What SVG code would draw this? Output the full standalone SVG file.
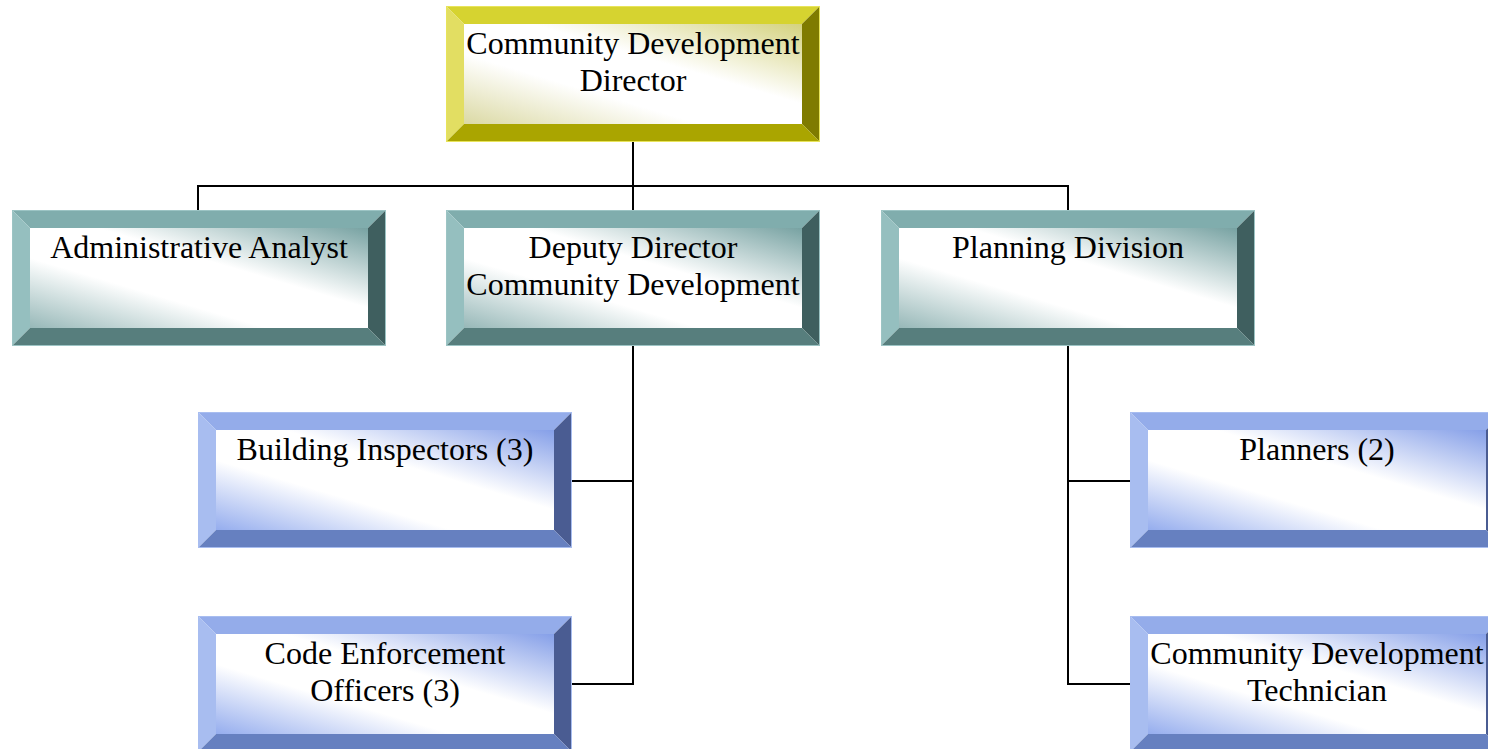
<svg xmlns="http://www.w3.org/2000/svg" width="1488" height="749" viewBox="0 0 1488 749">
<style>
text{font-family:"Liberation Serif","Times New Roman",serif;font-size:32px;fill:#000;text-anchor:middle}
.conn{stroke:#000;stroke-width:2;fill:none}
.y .t{fill:#d6d330}.y .l{fill:#e2de62}.y .r{fill:#7f7b00}.y .b{fill:#aaa500}.y .in{fill:url(#gy)}.y .o{stroke:#e8e45a}
.g .t{fill:#80adad}.g .l{fill:#95bfbf}.g .r{fill:#3f5f5f}.g .b{fill:#577e7d}.g .in{fill:url(#gg)}.g .o{stroke:#9cc4c4}
.bl .t{fill:#94acea}.bl .l{fill:#a8bdf0}.bl .r{fill:#4a5c92}.bl .b{fill:#6680c0}.bl .in{fill:url(#gb)}.bl .o{stroke:#a8bdf0}
.o{fill:none;stroke-width:1}
</style>
<defs>
<linearGradient id="gy" x1="1" y1="0" x2="0" y2="1">
<stop offset="0" stop-color="#d4d27e"/><stop offset="0.4" stop-color="#ffffff"/><stop offset="0.65" stop-color="#ffffff"/><stop offset="1" stop-color="#dbd9a4"/>
</linearGradient>
<linearGradient id="gg" x1="1" y1="0" x2="0" y2="1">
<stop offset="0" stop-color="#77a2a2"/><stop offset="0.4" stop-color="#ffffff"/><stop offset="0.65" stop-color="#ffffff"/><stop offset="1" stop-color="#97b8b8"/>
</linearGradient>
<linearGradient id="gb" x1="1" y1="0" x2="0" y2="1">
<stop offset="0" stop-color="#859fe8"/><stop offset="0.4" stop-color="#ffffff"/><stop offset="0.65" stop-color="#ffffff"/><stop offset="1" stop-color="#95adee"/>
</linearGradient>
</defs>
<g id="connectors">
<path class="conn" d="M633,142 V186 M198,210 V186 H1068 V210 M633,186 V210"/>
<path class="conn" d="M633,346 V684 H572 M633,481 H572"/>
<path class="conn" d="M1068,346 V684 H1130 M1068,481 H1130"/>
</g>
<g id="director" class="y" transform="translate(446,6)">
<polygon class="t" points="0,0 374,0 356,18 18,18"/><polygon class="l" points="0,0 18,18 18,118 0,136"/><polygon class="r" points="374,0 374,136 356,118 356,18"/><polygon class="b" points="0,136 18,118 356,118 374,136"/><rect class="in" x="18" y="18" width="338" height="100"/><rect class="o" x="0.5" y="0.5" width="373" height="135"/>
<text x="187" y="48">Community Development</text>
<text x="187" y="85">Director</text>
</g>
<g id="admin" class="g" transform="translate(12,210)">
<polygon class="t" points="0,0 374,0 356,18 18,18"/><polygon class="l" points="0,0 18,18 18,118 0,136"/><polygon class="r" points="374,0 374,136 356,118 356,18"/><polygon class="b" points="0,136 18,118 356,118 374,136"/><rect class="in" x="18" y="18" width="338" height="100"/><rect class="o" x="0.5" y="0.5" width="373" height="135"/>
<text x="187" y="48">Administrative Analyst</text>
</g>
<g id="deputy" class="g" transform="translate(446,210)">
<polygon class="t" points="0,0 374,0 356,18 18,18"/><polygon class="l" points="0,0 18,18 18,118 0,136"/><polygon class="r" points="374,0 374,136 356,118 356,18"/><polygon class="b" points="0,136 18,118 356,118 374,136"/><rect class="in" x="18" y="18" width="338" height="100"/><rect class="o" x="0.5" y="0.5" width="373" height="135"/>
<text x="187" y="48">Deputy Director</text>
<text x="187" y="85">Community Development</text>
</g>
<g id="planning" class="g" transform="translate(881,210)">
<polygon class="t" points="0,0 374,0 356,18 18,18"/><polygon class="l" points="0,0 18,18 18,118 0,136"/><polygon class="r" points="374,0 374,136 356,118 356,18"/><polygon class="b" points="0,136 18,118 356,118 374,136"/><rect class="in" x="18" y="18" width="338" height="100"/><rect class="o" x="0.5" y="0.5" width="373" height="135"/>
<text x="187" y="48">Planning Division</text>
</g>
<g id="building" class="bl" transform="translate(198,412)">
<polygon class="t" points="0,0 374,0 356,18 18,18"/><polygon class="l" points="0,0 18,18 18,118 0,136"/><polygon class="r" points="374,0 374,136 356,118 356,18"/><polygon class="b" points="0,136 18,118 356,118 374,136"/><rect class="in" x="18" y="18" width="338" height="100"/><rect class="o" x="0.5" y="0.5" width="373" height="135"/>
<text x="187" y="48">Building Inspectors (3)</text>
</g>
<g id="code" class="bl" transform="translate(198,616)">
<polygon class="t" points="0,0 374,0 356,18 18,18"/><polygon class="l" points="0,0 18,18 18,118 0,136"/><polygon class="r" points="374,0 374,136 356,118 356,18"/><polygon class="b" points="0,136 18,118 356,118 374,136"/><rect class="in" x="18" y="18" width="338" height="100"/><rect class="o" x="0.5" y="0.5" width="373" height="135"/>
<text x="187" y="48">Code Enforcement</text>
<text x="187" y="85">Officers (3)</text>
</g>
<g id="planners" class="bl" transform="translate(1130,412)">
<polygon class="t" points="0,0 374,0 356,18 18,18"/><polygon class="l" points="0,0 18,18 18,118 0,136"/><polygon class="r" points="374,0 374,136 356,118 356,18"/><polygon class="b" points="0,136 18,118 356,118 374,136"/><rect class="in" x="18" y="18" width="338" height="100"/><rect class="o" x="0.5" y="0.5" width="373" height="135"/>
<text x="187" y="48">Planners (2)</text>
</g>
<g id="technician" class="bl" transform="translate(1130,616)">
<polygon class="t" points="0,0 374,0 356,18 18,18"/><polygon class="l" points="0,0 18,18 18,118 0,136"/><polygon class="r" points="374,0 374,136 356,118 356,18"/><polygon class="b" points="0,136 18,118 356,118 374,136"/><rect class="in" x="18" y="18" width="338" height="100"/><rect class="o" x="0.5" y="0.5" width="373" height="135"/>
<text x="187" y="48">Community Development</text>
<text x="187" y="85">Technician</text>
</g>
</svg>
